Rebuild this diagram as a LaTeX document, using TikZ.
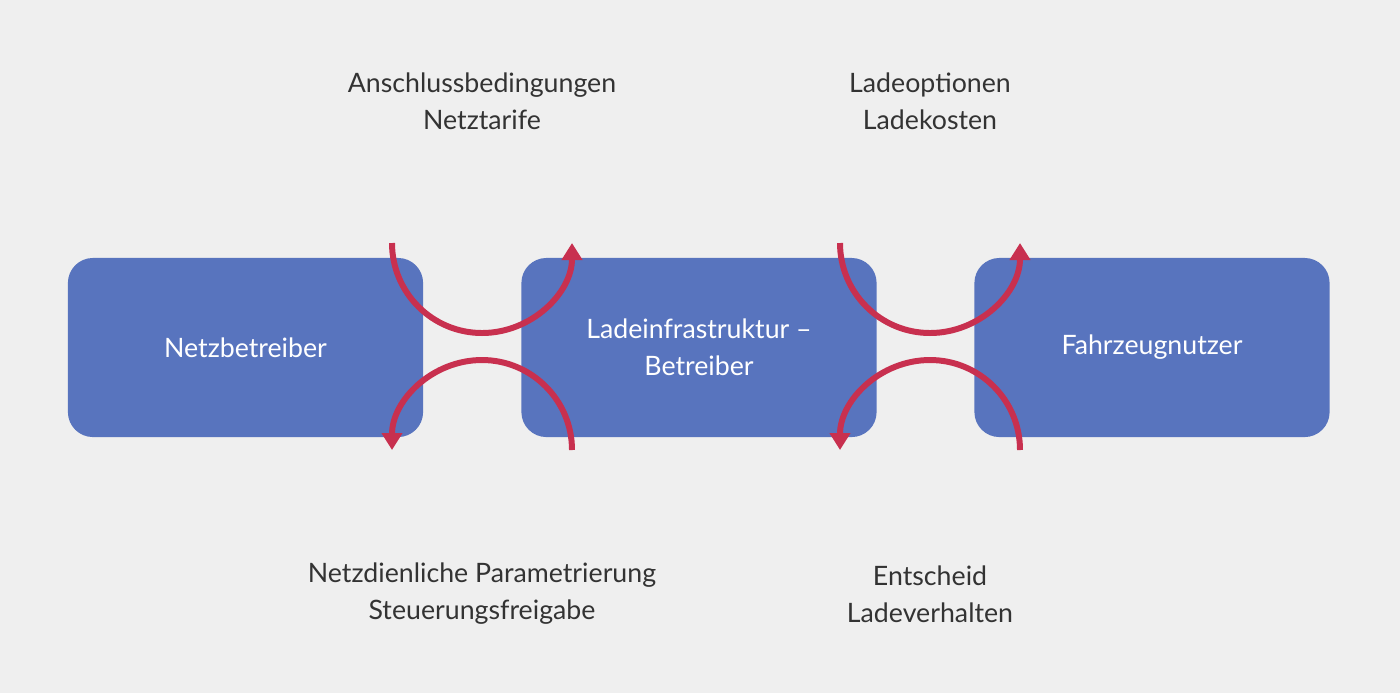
\documentclass[tikz,border=0pt]{standalone}
\usepackage{fontspec}
\setmainfont{Lato}
\usetikzlibrary{arrows.meta}
\definecolor{boxblue}{HTML}{5874BE}
\definecolor{arcred}{HTML}{C8304F}
\definecolor{bggray}{HTML}{EFEFEF}
\definecolor{txtgray}{HTML}{333333}
\begin{document}
\begin{tikzpicture}[x=0.01cm,y=-0.01cm,
  akteur/.style={fill=boxblue, rounded corners=0.25cm, minimum width=3.55cm,
    minimum height=1.79cm, text=white, font=\fontsize{7.6}{10.5}\selectfont, align=center},
  info/.style={text=txtgray, font=\fontsize{7.6}{10.5}\selectfont, align=center},
  flow/.style={arcred, line width=1.7pt, -{Triangle[length=0.17cm,width=0.2cm]}}]

\fill[bggray] (0,0) rectangle (1400,693);

% Akteure
\node[akteur] (netz) at (245.5,347.5) {Netzbetreiber};
\node[akteur] (lis) at (699,347.5) {Ladeinfrastruktur –\\Betreiber};
\node[akteur] (nutzer) at (1152,347.5) {Fahrzeugnutzer};

% Informationsflüsse
\draw[flow] (392,243) arc[start angle=180, end angle=0, radius=90];
\draw[flow] (572,450) arc[start angle=0, end angle=-180, radius=90];
\draw[flow] (840,243) arc[start angle=180, end angle=0, radius=90];
\draw[flow] (1020,450) arc[start angle=0, end angle=-180, radius=90];

% Beschriftungen
\node[info] (l1) at (482,101) {Anschlussbedingungen\\Netztarife};
\node[info] (l2) at (482,594) {Netzdienliche Parametrierung\\Steuerungsfreigabe};
\node[info] (l3) at (930,101) {Ladeoptionen\\Ladekosten};
\node[info] (l4) at (930,594) {Entscheid\\Ladeverhalten};

\end{tikzpicture}
\end{document}
